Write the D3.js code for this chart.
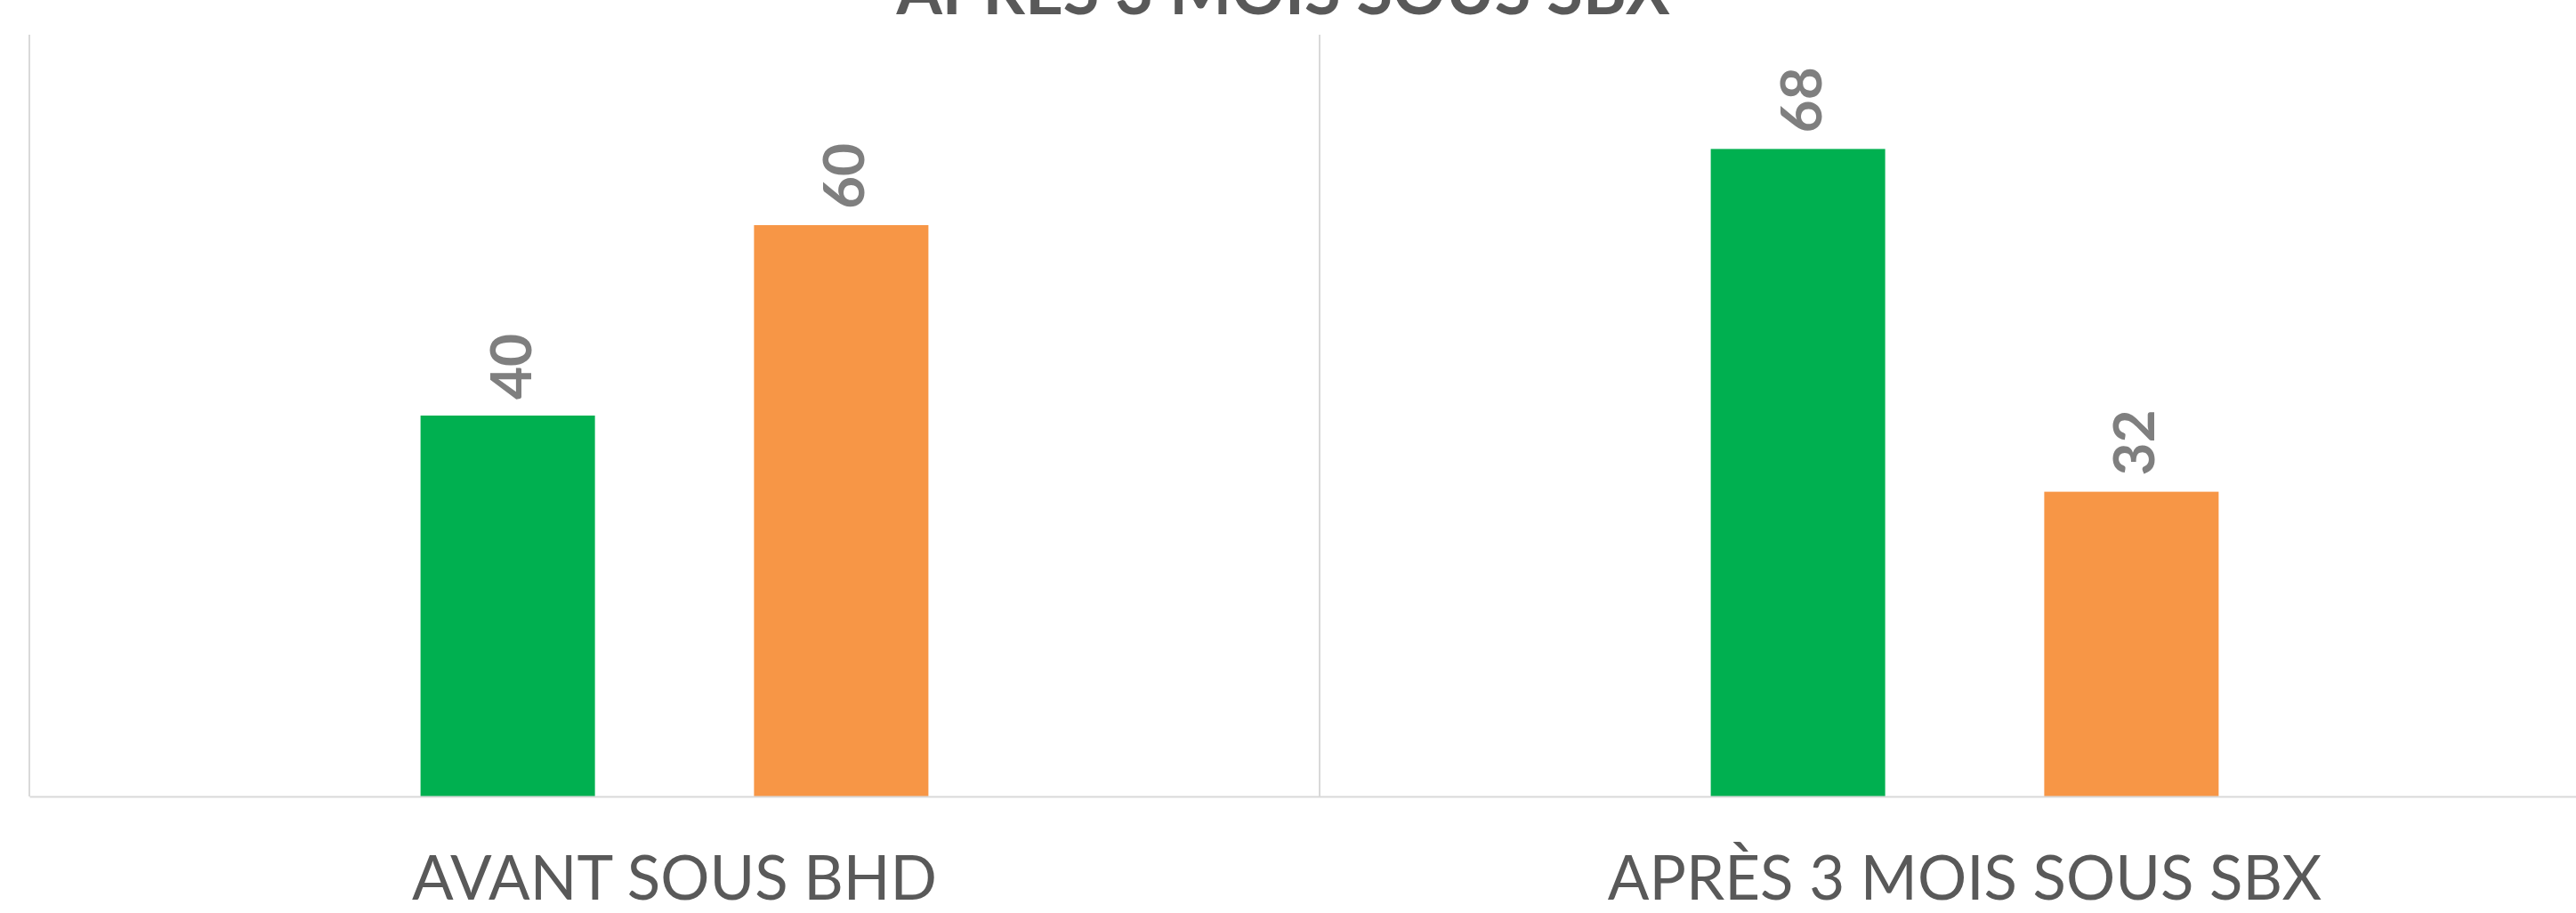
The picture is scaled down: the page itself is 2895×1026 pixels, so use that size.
<!DOCTYPE html>
<html>
<head>
<meta charset="utf-8">
<script src="https://cdn.jsdelivr.net/npm/d3@7"></script>
<style>
  html, body { margin: 0; padding: 0; background: #ffffff; }
  svg { display: block; }
</style>
</head>
<body>
<div id="chart"></div>
<script>
// ---- data ----
const title = "APRÈS 3 MOIS SOUS SBX";
const categories = ["AVANT SOUS BHD", "APRÈS 3 MOIS SOUS SBX"];
const seriesNames = ["Série 1", "Série 2"];
const series1Values = [40, 68];
const series2Values = [60, 32];
const seriesColors = ["#00b050", "#f79646"];

// ---- layout ----
const W = 2895, H = 1026;
const plot = { left: 33, right: 2933, top: 39, bottom: 895 };

const svg = d3.select("#chart").append("svg")
  .attr("width", W).attr("height", H);

svg.append("rect").attr("width", W).attr("height", H).attr("fill", "#ffffff");

const x0 = d3.scaleBand().domain(categories).range([plot.left, plot.right])
  .paddingInner(0).paddingOuter(0);
const x1 = d3.scaleBand().domain(seriesNames).range([0, x0.bandwidth()])
  .paddingInner(0.477).paddingOuter(1.173);
const y = d3.scaleLinear().domain([0, 80]).range([plot.bottom, plot.top]);

const rows = categories.map((c, i) => ({
  category: c,
  values: [
    { name: seriesNames[0], value: series1Values[i], color: seriesColors[0] },
    { name: seriesNames[1], value: series2Values[i], color: seriesColors[1] }
  ]
}));

// vertical gridlines at category boundaries
const boundaries = categories.map(c => x0(c)).concat([x0.range()[1]]);
svg.append("g").selectAll("line").data(boundaries).join("line")
  .attr("x1", d => d).attr("x2", d => d)
  .attr("y1", plot.top).attr("y2", plot.bottom)
  .attr("stroke", "#d9d9d9").attr("stroke-width", 2);

// bars
const groups = svg.append("g").selectAll("g").data(rows).join("g")
  .attr("transform", d => `translate(${x0(d.category)},0)`);

groups.selectAll("rect").data(d => d.values).join("rect")
  .attr("x", d => x1(d.name))
  .attr("width", x1.bandwidth())
  .attr("y", d => y(d.value))
  .attr("height", d => y(0) - y(d.value))
  .attr("fill", d => d.color);

// data labels (rotated)
groups.selectAll("text").data(d => d.values).join("text")
  .attr("transform", d => `translate(${x1(d.name) + x1.bandwidth() / 2 + 3},${y(d.value) - 18}) rotate(-90)`)
  .attr("dy", "0.36em")
  .attr("text-anchor", "start")
  .attr("font-family", "Lato, 'Open Sans', sans-serif")
  .attr("font-weight", "bold")
  .attr("font-size", 64)
  .attr("fill", "#7f7f7f")
  .text(d => d.value);

// category axis
const xAxis = d3.axisBottom(x0).tickSize(0).tickPadding(0);
const axisG = svg.append("g")
  .attr("transform", `translate(0,${plot.bottom})`)
  .call(xAxis);
axisG.select(".domain").attr("stroke", "#d9d9d9").attr("stroke-width", 2);
axisG.selectAll("text")
  .attr("dy", null)
  .attr("y", 116)
  .attr("font-family", "Lato, 'Open Sans', sans-serif")
  .attr("font-size", 69)
  .attr("fill", "#595959");

// title (mostly cropped above the canvas, as in the reference)
svg.append("text")
  .attr("x", 1442).attr("y", 16)
  .attr("text-anchor", "middle")
  .attr("font-family", "Lato, 'Open Sans', sans-serif")
  .attr("font-weight", "bold")
  .attr("font-size", 74)
  .attr("fill", "#595959")
  .text(title);
</script>
</body>
</html>
